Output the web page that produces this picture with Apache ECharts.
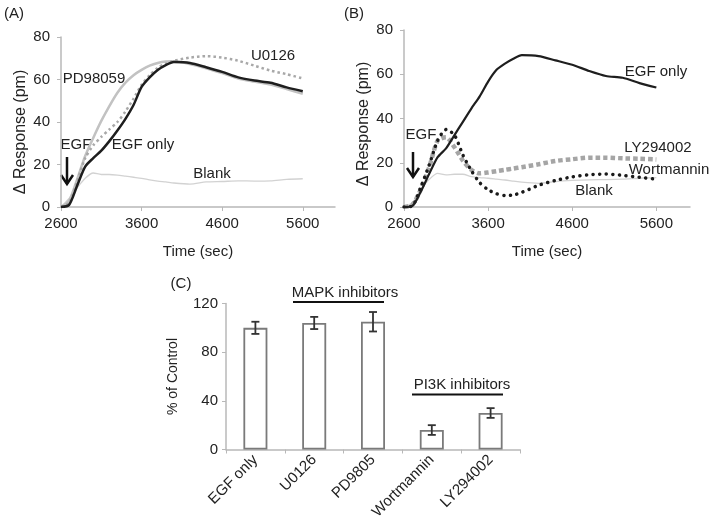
<!DOCTYPE html>
<html>
<head>
<meta charset="utf-8">
<script src="https://cdn.jsdelivr.net/npm/echarts@6/dist/echarts.min.js"></script>
<style>html,body{margin:0;padding:0;background:#fff}#c{width:714px;height:532px}</style>
</head>
<body>
<div id="c"></div>
<script>
// ---- Data ----
const times = [2600,2700,2800,2900,3000,3100,3200,3300,3400,3500,3600,3700,3800,3900,4000,4200,4400,4600,4800,5000,5200,5400,5600];
// Panel A
const aEgfOnly = [0,1,10,19,23,26.5,31,36,41.5,48,56.5,61,64.5,66.8,68.2,67.8,65.8,63.6,61,59.5,58.5,56.3,54.5];
const aPD98059 = [0,3,13,24,32.5,40.5,47.5,53.8,58.5,62,64.5,66.5,67.8,68.5,68.6,67.3,65.3,63,60.5,59,57.6,55.5,53.3];
const aU0126  = [0,2,12,23,29,33,36.5,40,45,51,57.5,62,65.5,67.5,68.8,70.3,71,70.3,68.8,66.5,64.2,62.5,60.5];
const aBlank  = [0,4,9,13.5,16,15.3,15.3,15,14.5,14,13.5,12.8,12.2,11.8,11.3,10.8,11.8,12,12.3,12.2,12.3,13,13.3];
// Panel B
const bEgfOnly = [0,0.5,7,15,22.5,26.5,32.5,38.5,44.5,50,56.7,62,64.8,67,68.6,68.2,66.3,64.3,61.5,59.2,58.4,56,54];
const bWortmannin = [0,0.5,9,19,30,35,32.5,23.5,16.5,11,7.8,6,5.2,5.4,6.6,9.8,12,13.6,14.6,14.9,14.3,13.4,12.6];
const bLY294002 = [0,1,8,18,30,31.5,27,21,16.8,15.2,15.6,16.2,16.8,17.4,18,19.3,20.8,21.6,22.3,22.3,22,21.8,21.5];
const bBlank = [0,2,8,12.5,15.2,14.5,14.8,14.8,13.7,13.3,13,12.6,12.2,11.7,11.2,10.7,11.5,12,12.3,12.4,12.6,13,13.3];
// Panel C
const categories = ['EGF only','U0126','PD9805','Wortmannin','LY294002'];
const barValues = [100,104,105,16,30];
const barErrors = [5,5,8,4,4];
// Tick labels
const timeTicks = [2600,3600,4600,5600];

// ---- Chart ----
const FONT = '"Liberation Sans", Arial, sans-serif';
const TXT = '#222';
const AX = '#b8b8b8';
const pts = v => times.map((t,i)=>[t, v[i]]);

function timeAxis(gi){
  return {
    type:'value', gridIndex:gi, min:2600, max:6000,
    name:'Time (sec)', nameLocation:'middle', nameGap:37,
    nameTextStyle:{fontFamily:FONT,fontSize:15,color:TXT},
    axisLine:{show:true,lineStyle:{color:AX,width:1.5}},
    axisTick:{show:true,length:4,lineStyle:{color:AX},customValues:timeTicks},
    axisLabel:{fontFamily:FONT,fontSize:15,color:TXT,margin:9,customValues:timeTicks,formatter:v=>String(v)},
    splitLine:{show:false}
  };
}
function respAxis(gi){
  return {
    type:'value', gridIndex:gi, min:0, max:80, interval:20,
    axisLine:{show:true,lineStyle:{color:AX,width:1.5}},
    axisTick:{show:true,length:4,lineStyle:{color:AX}},
    axisLabel:{fontFamily:FONT,fontSize:15,color:TXT,margin:11},
    splitLine:{show:false}
  };
}
function line(name, xi, data, color, width, type, extra){
  return Object.assign({
    name, type:'line', xAxisIndex:xi, yAxisIndex:xi, data:pts(data),
    symbol:'none', smooth:0.25, silent:true,
    lineStyle:{color, width, type: type||'solid'}
  }, extra||{});
}

const chart = echarts.init(document.getElementById('c'), null, {renderer:'canvas'});
const txt = (text,x,y,size,extra)=>Object.assign({type:'text', style:{text, x, y, align:'center', verticalAlign:'middle', font:(size||15)+'px '+FONT, fill:TXT}},extra||{});
const vtxt = (text,x,y,size)=>({type:'text', x, y, rotation:Math.PI/2, style:{text, x:0, y:0, align:'center', verticalAlign:'middle', font:size+'px '+FONT, fill:TXT}});
const arrow = (x,y1,y2)=>({type:'group', children:[
  {type:'line', shape:{x1:x,y1:y1,x2:x,y2:y2}, style:{stroke:'#111',lineWidth:2.5}},
  {type:'polyline', shape:{points:[[x-6,y2-9],[x,y2],[x+6,y2-9]]}, style:{stroke:'#111',lineWidth:2.5,fill:null}}
]});

chart.setOption({
  animation:false,
  backgroundColor:'#fff',
  grid:[
    {left:61, top:37, width:274, height:170},
    {left:404, top:30, width:286, height:177},
    {left:226, top:303.5, width:294, height:146}
  ],
  xAxis:[
    timeAxis(0),
    timeAxis(1),
    {type:'category', gridIndex:2, data:categories,
     axisLine:{show:true,lineStyle:{color:AX,width:1.5}},
     axisTick:{show:true,length:4,lineStyle:{color:AX}},
     axisLabel:{fontFamily:FONT,fontSize:15,color:TXT,rotate:45,margin:8}}
  ],
  yAxis:[
    respAxis(0),
    respAxis(1),
    {type:'value', gridIndex:2, min:0, max:120, interval:40,
     name:'% of Control', nameLocation:'middle', nameGap:46,
     nameTextStyle:{fontFamily:FONT,fontSize:14,color:TXT},
     axisLine:{show:true,lineStyle:{color:AX,width:1.5}},
     axisTick:{show:true,length:4,lineStyle:{color:AX}},
     axisLabel:{fontFamily:FONT,fontSize:15,color:TXT,margin:8},
     splitLine:{show:false}}
  ],
  series:[
    line('Blank',0,aBlank,'#d2d2d2',1.3),
    line('PD98059',0,aPD98059,'#c2c2c2',2.5),
    line('U0126',0,aU0126,'#a8a8a8',2.5,[2.5,3]),
    line('EGF only',0,aEgfOnly,'#1e1e1e',2.5),
    line('Blank',1,bBlank,'#d2d2d2',1.3),
    line('LY294002',1,bLY294002,'#a5a5a5',4.5,[4.5,3]),
    line('Wortmannin',1,bWortmannin,'#1a1a1a',3.5,[0.1,6.5],{lineStyle:{color:'#1a1a1a',width:3.5,type:[0.1,6.5],cap:'round'}}),
    line('EGF only',1,bEgfOnly,'#1e1e1e',2.2),
    {type:'bar', xAxisIndex:2, yAxisIndex:2, data:barValues, barWidth:24, silent:true, z:2,
     itemStyle:{color:'#fff', borderColor:'#7a7a7a', borderWidth:1.8}},
    {type:'custom', xAxisIndex:2, yAxisIndex:2, silent:true, z:10,
     data:barValues.map((v,i)=>[i, v-barErrors[i], v+barErrors[i]]),
     renderItem:(params, api)=>{
       const hi = api.coord([api.value(0), api.value(2)]);
       const lo = api.coord([api.value(0), api.value(1)]);
       const w = 4, st = {stroke:'#333', lineWidth:1.8};
       return {type:'group', children:[
         {type:'line', shape:{x1:hi[0],y1:hi[1],x2:lo[0],y2:lo[1]}, style:st},
         {type:'line', shape:{x1:hi[0]-w,y1:hi[1],x2:hi[0]+w,y2:hi[1]}, style:st},
         {type:'line', shape:{x1:lo[0]-w,y1:lo[1],x2:lo[0]+w,y2:lo[1]}, style:st}
       ]};
     }}
  ],
  graphic:[
    txt('(A)',14,14,15),
    txt('(B)',354,14,15),
    txt('(C)',181,284,15),
    vtxt('Δ Response (pm)',21,132,16),
    vtxt('Δ Response (pm)',364,124,16),
    txt('U0126',273,56),
    txt('PD98059',94,79),
    txt('EGF only',143,145),
    txt('EGF',76,145),
    txt('Blank',212,174),
    arrow(67,157,184),
    txt('EGF only',656,72),
    txt('LY294002',658,147.5),
    txt('Wortmannin',669,170),
    txt('Blank',594,191),
    txt('EGF',421,135),
    arrow(413,152,177),
    txt('MAPK inhibitors',345,293),
    {type:'line', shape:{x1:293,y1:302,x2:384,y2:302}, style:{stroke:'#111',lineWidth:1.8}},
    txt('PI3K inhibitors',462,385),
    {type:'line', shape:{x1:412,y1:394.5,x2:503,y2:394.5}, style:{stroke:'#111',lineWidth:1.8}}
  ]
});
</script>
</body>
</html>
